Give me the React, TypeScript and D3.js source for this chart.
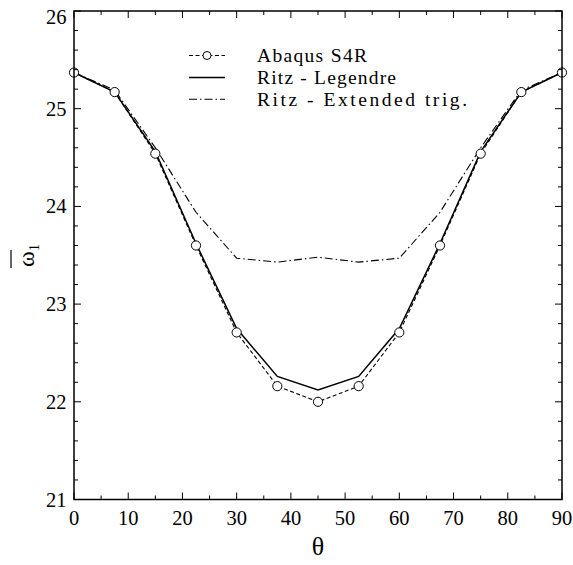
import React from "react";
import * as d3 from "d3";

const theta = [0, 7.5, 15, 22.5, 30, 37.5, 45, 52.5, 60, 67.5, 75, 82.5, 90];
const abaqus = [25.37, 25.17, 24.54, 23.6, 22.71, 22.16, 22.0, 22.16, 22.71, 23.6, 24.54, 25.17, 25.37];
const legendre = [25.37, 25.17, 24.56, 23.62, 22.75, 22.26, 22.12, 22.26, 22.75, 23.62, 24.56, 25.17, 25.37];
const extTrig = [25.37, 25.19, 24.6, 23.94, 23.47, 23.43, 23.48, 23.43, 23.47, 23.94, 24.6, 25.19, 25.37];
const xTicks = [0, 10, 20, 30, 40, 50, 60, 70, 80, 90];
const yTicks = [21, 22, 23, 24, 25, 26];
const legendLabels = ["Abaqus S4R", "Ritz - Legendre", "Ritz - Extended trig."];
const legendWidths = [110, 139, 210];

export default function App() {
  const W = 573, H = 565;
  const left = 74, right = 562, top = 11, bottom = 499.5;
  const x = d3.scaleLinear().domain([0, 90]).range([left, right]);
  const y = d3.scaleLinear().domain([21, 26]).range([bottom, top]);
  const line = d3.line<number>().x((_, i) => x(theta[i])).y((d) => y(d));
  const font = "'Liberation Serif', 'Times New Roman', serif";
  const xMinor = d3.range(0, 90.01, 5);
  const yMinor = d3.range(21, 26.001, 0.2);
  const dashA = "4,2.5";
  const dashT = "8,3,1.5,3";
  const legY = [55.5, 77.5, 99.3];
  return (
    <svg width={W} height={H} style={{ position: "absolute", left: 0, top: 0, fontFamily: font }}>
      <rect width={W} height={H} fill="white" />
      <path d={line(extTrig) || ""} fill="none" stroke="#000" strokeWidth={1.1} strokeDasharray={dashT} />
      <path d={line(legendre) || ""} fill="none" stroke="#000" strokeWidth={1.5} />
      <path d={line(abaqus) || ""} fill="none" stroke="#000" strokeWidth={1.1} strokeDasharray={dashA} />
      {abaqus.map((v, i) => (
        <circle key={i} cx={x(theta[i])} cy={y(v)} r={4.6} fill="white" stroke="#000" strokeWidth={1} />
      ))}
      <rect x={left} y={top} width={right - left} height={bottom - top} fill="none" stroke="#000" strokeWidth={1.5} />
      {xMinor.map((t) => {
        const major = t % 10 === 0;
        const len = major ? 7 : 4;
        return (
          <g key={"x" + t}>
            <line x1={x(t)} x2={x(t)} y1={bottom} y2={bottom - len} stroke="#000" strokeWidth={1} />
            <line x1={x(t)} x2={x(t)} y1={top} y2={top + len} stroke="#000" strokeWidth={1} />
          </g>
        );
      })}
      {yMinor.map((v, i) => {
        const major = i % 5 === 0;
        const len = major ? 7 : 4;
        return (
          <g key={"y" + i}>
            <line x1={left} x2={left + len} y1={y(v)} y2={y(v)} stroke="#000" strokeWidth={1} />
            <line x1={right} x2={right - len} y1={y(v)} y2={y(v)} stroke="#000" strokeWidth={1} />
          </g>
        );
      })}
      {xTicks.map((t) => (
        <text key={"xl" + t} x={x(t)} y={bottom + 25.5} textAnchor="middle" fontFamily={font} fontSize={20.5}>
          {t}
        </text>
      ))}
      {yTicks.map((v) => (
        <text key={"yl" + v} x={left - 7.5} y={Math.max(y(v) + 7, 23.5)} textAnchor="end" fontFamily={font} fontSize={20.5}>
          {v}
        </text>
      ))}
      <text x={(left + right) / 2} y={555} textAnchor="middle" fontFamily={font} fontSize={26}>
        θ
      </text>
      <g transform="translate(34,259) rotate(-90)">
        <text x={0} y={0} textAnchor="middle" fontFamily={font} fontSize={24}>
          ω
        </text>
        <text x={8} y={5} fontFamily={font} fontSize={14}>
          1
        </text>
        <line x1={-9} x2={9} y1={-23} y2={-23} stroke="#000" strokeWidth={1.2} />
      </g>
      {legendLabels.map((lab, i) => (
        <g key={lab}>
          <line
            x1={189}
            x2={225}
            y1={legY[i]}
            y2={legY[i]}
            stroke="#000"
            strokeWidth={i === 1 ? 1.5 : 1.1}
            strokeDasharray={i === 0 ? dashA : i === 2 ? dashT : undefined}
          />
          {i === 0 && <circle cx={207} cy={legY[i]} r={4} fill="white" stroke="#000" strokeWidth={1} />}
          <text
            x={257}
            y={legY[i] + 6.5}
            fontFamily={font}
            fontSize={19.5}
            textLength={legendWidths[i]}
            lengthAdjust="spacing"
          >
            {lab}
          </text>
        </g>
      ))}
    </svg>
  );
}
